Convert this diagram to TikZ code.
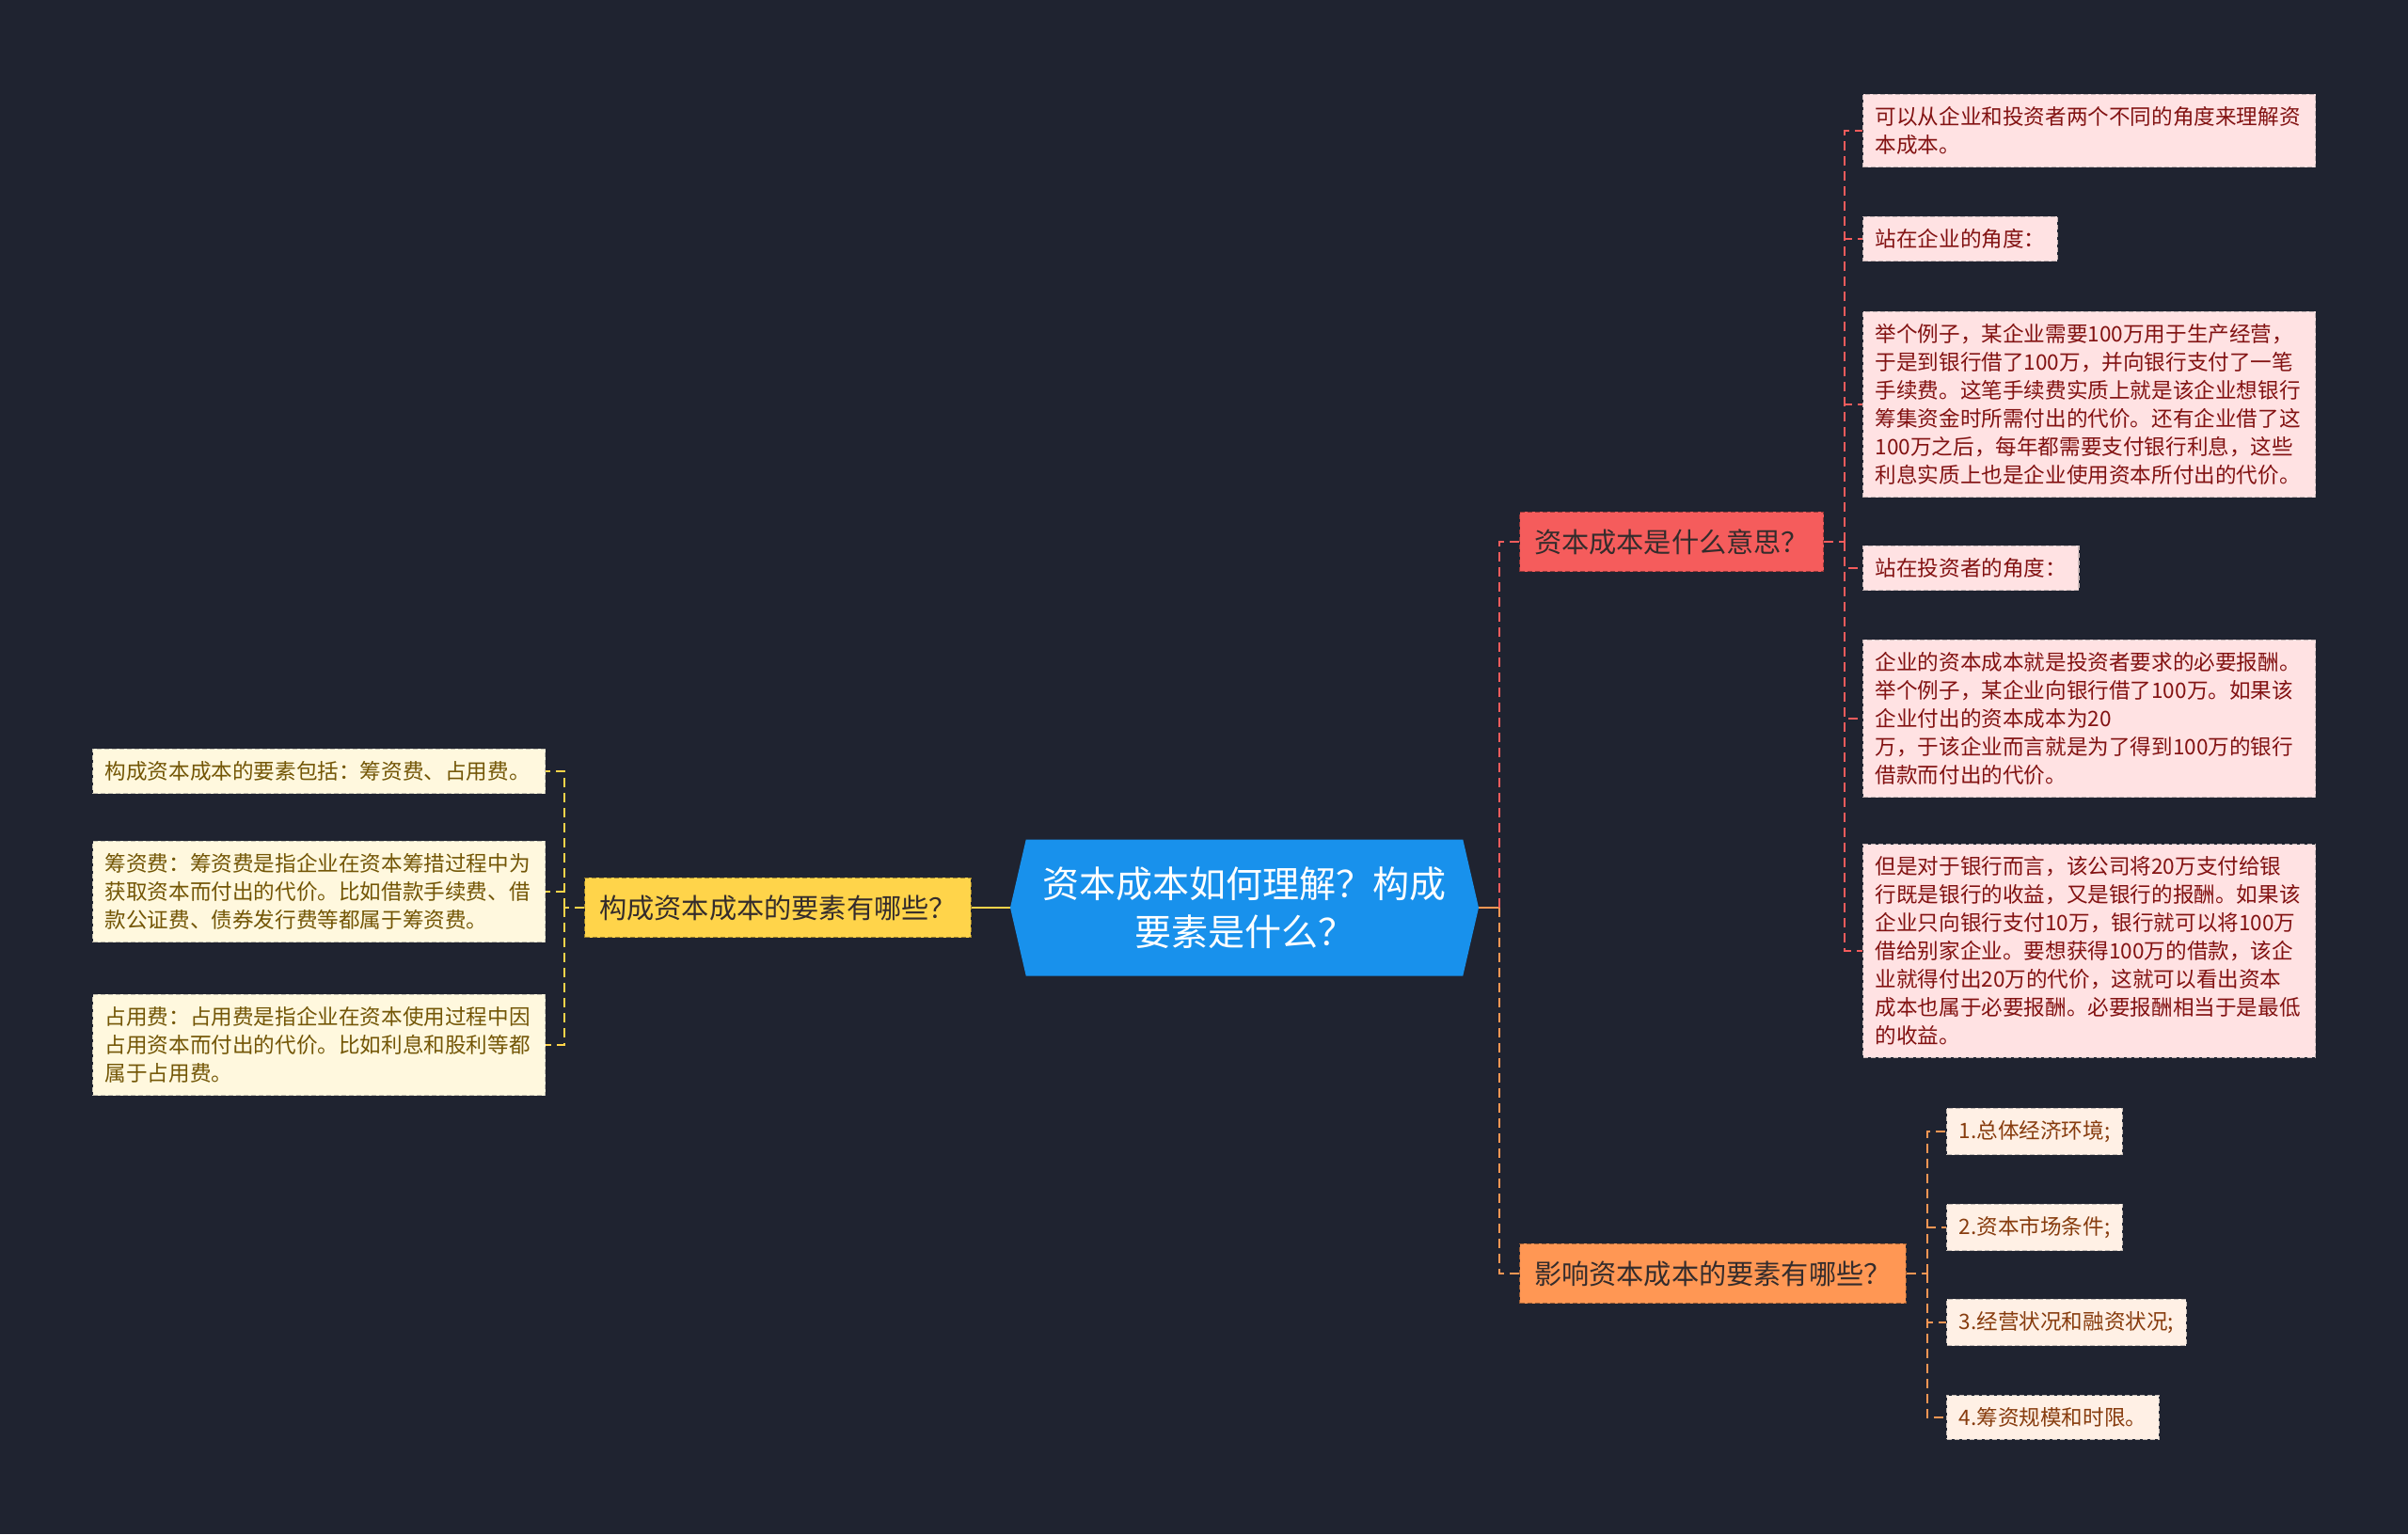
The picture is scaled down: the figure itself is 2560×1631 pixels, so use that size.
\documentclass[tikz,border=0pt]{standalone}
\usepackage{fontspec}
\setmainfont{Noto Sans CJK SC}
\usetikzlibrary{shapes.symbols, positioning}
\definecolor{bgnavy}{RGB}{31,35,48}
\definecolor{rootblue}{RGB}{24,145,236}
\definecolor{branchred}{RGB}{245,92,92}
\definecolor{branchorange}{RGB}{255,151,84}
\definecolor{branchyellow}{RGB}{255,212,74}
\definecolor{leafpink}{RGB}{255,226,227}
\definecolor{leafpeach}{RGB}{255,240,229}
\definecolor{leafcream}{RGB}{255,248,222}
\definecolor{textred}{RGB}{130,18,18}
\definecolor{textbrown}{RGB}{135,60,14}
\definecolor{textolive}{RGB}{115,86,6}
\definecolor{textdark}{RGB}{52,44,44}

\begin{document}
\begin{tikzpicture}[x=1pt, y=-1pt,
    root/.style={signal, signal to=west and east, signal pointer angle=154,
                 fill=rootblue, text=white, minimum width=498pt,
                 minimum height=145pt, inner sep=0pt, align=center,
                 font=\fontsize{39}{51}\selectfont},
    branch/.style={fill=#1, draw=#1!60!black, line width=1.2pt,
                   dash pattern=on 5pt off 3pt, text=textdark,
                   inner xsep=15.5pt, inner ysep=18pt,
                   font=\fontsize{29.2}{34}\selectfont},
    leaf/.style={fill=#1, draw=#1!55!gray, line width=1.2pt,
                 dash pattern=on 5pt off 3pt, inner xsep=13pt,
                 inner ysep=13pt, align=left,
                 font=\fontsize{22.6}{30}\selectfont},
    wide/.style={text width=455pt},
    link/.style={draw=#1, line width=2.5pt, dash pattern=on 10pt off 6pt}
]
    \fill[bgnavy] (0,0) rectangle (2560,1631);

    \node[root] (root) at (1323,965) {资本成本如何理解？构成\\要素是什么？};

    % first level
    \node[branch=branchred, anchor=west] (meaning) at (1615,576) {资本成本是什么意思？};
    \node[branch=branchorange, anchor=west] (factors) at (1615,1354) {影响资本成本的要素有哪些？};
    \node[branch=branchyellow, anchor=east] (parts) at (1033,965) {构成资本成本的要素有哪些？};

    % meaning leaves
    \node[leaf=leafpink, text=textred, wide, anchor=west] (m1) at (1980,139) {
        可以从企业和投资者两个不同的角度来理解资\\本成本。};
    \node[leaf=leafpink, text=textred, anchor=west] (m2) at (1980,254) {站在企业的角度：};
    \node[leaf=leafpink, text=textred, wide, anchor=west] (m3) at (1980,430) {
        举个例子，某企业需要100万用于生产经营，\\
        于是到银行借了100万，并向银行支付了一笔\\
        手续费。这笔手续费实质上就是该企业想银行\\
        筹集资金时所需付出的代价。还有企业借了这\\
        100万之后，每年都需要支付银行利息，这些\\
        利息实质上也是企业使用资本所付出的代价。};
    \node[leaf=leafpink, text=textred, anchor=west] (m4) at (1980,604) {站在投资者的角度：};
    \node[leaf=leafpink, text=textred, wide, anchor=west] (m5) at (1980,764) {
        企业的资本成本就是投资者要求的必要报酬。\\
        举个例子，某企业向银行借了100万。如果该\\
        企业付出的资本成本为20\\
        万，于该企业而言就是为了得到100万的银行\\
        借款而付出的代价。};
    \node[leaf=leafpink, text=textred, wide, anchor=west] (m6) at (1980,1011) {
        但是对于银行而言，该公司将20万支付给银\\
        行既是银行的收益，又是银行的报酬。如果该\\
        企业只向银行支付10万，银行就可以将100万\\
        借给别家企业。要想获得100万的借款，该企\\
        业就得付出20万的代价，这就可以看出资本\\
        成本也属于必要报酬。必要报酬相当于是最低\\
        的收益。};

    % factor leaves
    \node[leaf=leafpeach, text=textbrown, anchor=west] (f1) at (2069,1203) {1.总体经济环境;};
    \node[leaf=leafpeach, text=textbrown, anchor=west] (f2) at (2069,1305) {2.资本市场条件;};
    \node[leaf=leafpeach, text=textbrown, anchor=west] (f3) at (2069,1406) {3.经营状况和融资状况;};
    \node[leaf=leafpeach, text=textbrown, anchor=west] (f4) at (2069,1507) {4.筹资规模和时限。};

    % parts leaves
    \node[leaf=leafcream, text=textolive, wide, anchor=west] (p1) at (98,820) {
        构成资本成本的要素包括：筹资费、占用费。};
    \node[leaf=leafcream, text=textolive, wide, anchor=west] (p2) at (98,948) {
        筹资费：筹资费是指企业在资本筹措过程中为\\
        获取资本而付出的代价。比如借款手续费、借\\
        款公证费、债券发行费等都属于筹资费。};
    \node[leaf=leafcream, text=textolive, wide, anchor=west] (p3) at (98,1111) {
        占用费：占用费是指企业在资本使用过程中因\\
        占用资本而付出的代价。比如利息和股利等都\\
        属于占用费。};

    % connectors
    \draw[link=branchyellow, solid] (root.west) -- (parts.east);
    \draw[link=branchyellow] (parts.west) -- ++(-21,0) coordinate (pspine);
    \foreach \c in {p1,p2,p3}
        \draw[link=branchyellow] (pspine) |- (\c.east);

    \draw[link=branchorange, solid] (root.east) -- ++(22,0) coordinate (rspine);
    \draw[link=branchred] (rspine) |- (meaning.west);
    \draw[link=branchorange] (rspine) |- (factors.west);

    \draw[link=branchred] (meaning.east) -- (1961,576) coordinate (mspine);
    \foreach \c in {m1,m2,m3,m4,m5,m6}
        \draw[link=branchred] (mspine) |- (\c.west);

    \draw[link=branchorange] (factors.east) -- (2049,1354) coordinate (fspine);
    \foreach \c in {f1,f2,f3,f4}
        \draw[link=branchorange] (fspine) |- (\c.west);
\end{tikzpicture}
\end{document}
